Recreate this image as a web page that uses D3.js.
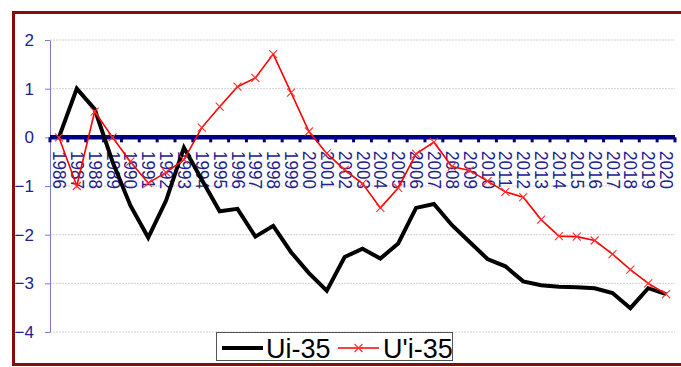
<!DOCTYPE html>
<html>
<head>
<meta charset="utf-8">
<script src="https://cdn.jsdelivr.net/npm/d3@7/dist/d3.min.js"></script>
<style>
  html, body { margin: 0; padding: 0; background: #fff; }
  svg { display: block; font-family: "Liberation Sans", Arial, sans-serif; }
</style>
</head>
<body>
<svg id="chart" width="681" height="367"></svg>
<script>
// Years on the category axis
const years = [
  "1986","1987","1988","1989","1990","1991","1992","1993","1994","1995",
  "1996","1997","1998","1999","2000","2001","2002","2003","2004","2005",
  "2006","2007","2008","2009","2010","2011","2012","2013","2014","2015",
  "2016","2017","2018","2019","2020"
];

// Ui-35 series
const ui35 = [
  0, 1.0, 0.58, -0.5, -1.4, -2.06, -1.3, -0.21, -0.87, -1.52,
  -1.47, -2.04, -1.82, -2.36, -2.79, -3.15, -2.46, -2.29, -2.49, -2.18,
  -1.45, -1.37, -1.8, -2.15, -2.5, -2.65, -2.96, -3.04, -3.07, -3.08,
  -3.1, -3.2, -3.51, -3.1, -3.22
];

// U'i-35 series
const uPrime35 = [
  0, -1.0, 0.53, 0.0, -0.5, -0.94, -0.72, -0.46, 0.2, 0.63,
  1.04, 1.22, 1.71, 0.92, 0.12, -0.33, -0.67, -0.95, -1.45, -1.04,
  -0.34, -0.1, -0.6, -0.68, -0.9, -1.12, -1.23, -1.69, -2.03, -2.04,
  -2.12, -2.4, -2.72, -3.0, -3.22
];

const yTicks = [-4, -3, -2, -1, 0, 1, 2];
const seriesNames = ["Ui-35", "U'i-35"];

const svg = d3.select("#chart");

// outer frame
svg.append("rect")
  .attr("x", 13.5).attr("y", 12.5)
  .attr("width", 700).attr("height", 352)
  .attr("fill", "none")
  .attr("stroke", "#8b0a0a")
  .attr("stroke-width", 3);

const plotLeft = 50, plotRight = 675, plotTop = 40, plotBottom = 332;

const x = d3.scaleBand().domain(years).range([plotLeft, plotRight]).padding(0);
const cx = d => x(d) + x.bandwidth() / 2;
const y = d3.scaleLinear().domain([-4, 2]).range([plotBottom, plotTop]);

// horizontal gridlines
svg.append("g")
  .selectAll("line")
  .data(yTicks.filter(v => v !== 0))
  .join("line")
  .attr("x1", plotLeft).attr("x2", plotRight)
  .attr("y1", d => y(d)).attr("y2", d => y(d))
  .attr("stroke", "#d2d2d2")
  .attr("stroke-width", 1)
  .attr("stroke-dasharray", "2,1");

// value axis
const yAxis = svg.append("g")
  .attr("transform", `translate(${plotLeft},0)`)
  .call(d3.axisLeft(y).tickValues(yTicks).tickSize(5).tickPadding(11).tickSizeOuter(0)
    .tickFormat(d3.format("d")));
yAxis.select(".domain").attr("stroke", "#7c7cd0");
yAxis.selectAll(".tick line").attr("stroke", "#7c7cd0");
yAxis.selectAll(".tick text")
  .attr("fill", "#22228e")
  .attr("font-size", 17)
  .style("font-family", "'Liberation Sans', Arial, sans-serif");

// year labels, rotated to read downward (slightly condensed along the reading direction)
svg.append("g")
  .selectAll("text")
  .data(years)
  .join("text")
  .attr("transform", d => `translate(${cx(d) - 6},151) rotate(90) scale(0.9,1)`)
  .attr("text-anchor", "start")
  .attr("fill", "#22228e")
  .attr("font-size", 19)
  .text(d => d);

// zero line with category boundary ticks
const zeroY = y(0);
svg.append("g")
  .selectAll("rect")
  .data(d3.range(years.length + 1))
  .join("rect")
  .attr("x", i => (i < years.length ? x(years[i]) : plotRight) - 1.5)
  .attr("y", zeroY)
  .attr("width", 3)
  .attr("height", 5)
  .attr("fill", "#000080");
svg.append("line")
  .attr("x1", plotLeft).attr("x2", plotRight)
  .attr("y1", zeroY).attr("y2", zeroY)
  .attr("stroke", "#000080")
  .attr("stroke-width", 4.5);

const line = d3.line()
  .x((d, i) => cx(years[i]))
  .y(d => y(d));

// Ui-35
svg.append("path")
  .datum(ui35)
  .attr("d", line)
  .attr("fill", "none")
  .attr("stroke", "#000")
  .attr("stroke-width", 4)
  .attr("stroke-linejoin", "miter");

// U'i-35
svg.append("path")
  .datum(uPrime35)
  .attr("d", line)
  .attr("fill", "none")
  .attr("stroke", "#ff0000")
  .attr("stroke-width", 1.6);

const xMark = (px, py, s) =>
  `M${px - s},${py - s}L${px + s},${py + s}M${px - s},${py + s}L${px + s},${py - s}`;

svg.append("g")
  .selectAll("path")
  .data(uPrime35)
  .join("path")
  .attr("d", (d, i) => xMark(cx(years[i]), y(d), 4))
  .attr("stroke", "#ff3030")
  .attr("stroke-width", 1.1)
  .attr("fill", "none");

// legend
const lg = svg.append("g");
lg.append("rect")
  .attr("x", 216.5).attr("y", 332.5)
  .attr("width", 236).attr("height", 28)
  .attr("fill", "#fff")
  .attr("stroke", "#555")
  .attr("stroke-width", 1);
lg.append("line")
  .attr("x1", 222).attr("x2", 263)
  .attr("y1", 348).attr("y2", 348)
  .attr("stroke", "#000").attr("stroke-width", 4);
lg.append("text")
  .attr("x", 266).attr("y", 357.5)
  .attr("font-size", 27).attr("fill", "#000")
  .text(seriesNames[0]);
lg.append("line")
  .attr("x1", 338).attr("x2", 379)
  .attr("y1", 348).attr("y2", 348)
  .attr("stroke", "#ff0000").attr("stroke-width", 1.6);
lg.append("path")
  .attr("d", xMark(358.5, 348, 4))
  .attr("stroke", "#ff3030").attr("stroke-width", 1.1);
lg.append("text")
  .attr("x", 383).attr("y", 357.5)
  .attr("font-size", 27).attr("fill", "#000")
  .text(seriesNames[1]);
</script>
</body>
</html>
